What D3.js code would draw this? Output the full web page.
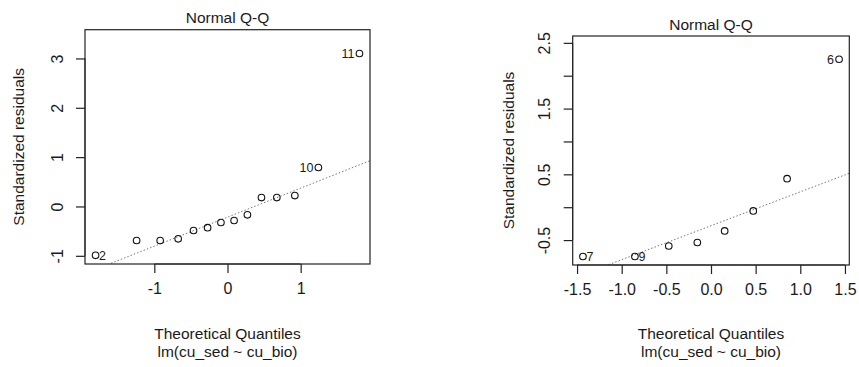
<!DOCTYPE html>
<html><head><meta charset="utf-8">
<script src="https://cdn.jsdelivr.net/npm/d3@7"></script>
<style>
html,body{margin:0;padding:0;background:#fff;}
text{font-family:"Liberation Sans",Arial,sans-serif;fill:#1a1a1a;}
</style></head>
<body>
<svg id="chart" width="859" height="367"></svg>
<script>
// ---- Data ----
const leftTheo   = [-1.803,-1.242,-0.920,-0.674,-0.464,-0.272,-0.090,0.090,0.272,0.464,0.674,0.920,1.242,1.803];
const leftResid  = [-0.99,-0.69,-0.69,-0.655,-0.487,-0.43,-0.325,-0.284,-0.17,0.18,0.18,0.22,0.79,3.10];
const leftLabelIdx  = [0,12,13];
const leftLabelText = ["2","10","11"];
const leftXTicks = [-1,0,1];
const leftXTickLabels = ["-1","0","1"];
const leftYTicks = [-1,0,1,2,3];
const leftYTickLabels = ["-1","0","1","2","3"];

const rightTheo  = [-1.434,-0.852,-0.473,-0.153,0.153,0.473,0.852,1.434];
const rightResid = [-0.75,-0.75,-0.59,-0.537,-0.36,-0.057,0.434,2.25];
const rightLabelIdx  = [0,1,7];
const rightLabelText = ["7","9","6"];
const rightXTicks = [-1.5,-1,-0.5,0,0.5,1,1.5];
const rightXTickLabels = ["-1.5","-1.0","-0.5","0.0","0.5","1.0","1.5"];
const rightYTicks = [-0.5,0,0.5,1,1.5,2,2.5];
const rightYTickLabels = ["-0.5","","0.5","","1.5","","2.5"];

const titleText = "Normal Q-Q";
const xTitle = "Theoretical Quantiles";
const subTitle = "lm(cu_sed ~ cu_bio)";
const yTitle = "Standardized residuals";

const svg = d3.select("#chart");

function quantile7(sorted, p){
  const h = (sorted.length-1)*p, lo = Math.floor(h);
  return sorted[lo] + (h-lo)*((sorted[Math.min(lo+1,sorted.length-1)]) - sorted[lo]);
}

function panel(cfg){
  const {box, theo, resid, labIdx, labText, xTicks, xTickLabels, yTicks, yTickLabels} = cfg;
  const g = svg.append("g");
  const xe = d3.extent(theo);
  const xpad = (xe[1]-xe[0])*0.04;
  const ye = d3.extent(resid);
  const ytop = ye[1] + (ye[1]-ye[0])*0.075;
  const ypad = (ytop-ye[0])*0.04;
  const x = d3.scaleLinear().domain([xe[0]-xpad, xe[1]+xpad]).range([box.x0, box.x1]);
  const y = d3.scaleLinear().domain([ye[0]-ypad, ytop+ypad]).range([box.y1, box.y0]);

  const cid = "clip"+Math.round(box.x0);
  svg.append("defs").append("clipPath").attr("id",cid)
    .append("rect").attr("x",box.x0).attr("y",box.y0).attr("width",box.x1-box.x0).attr("height",box.y1-box.y0);

  // qq line through quartiles
  const s = resid.slice().sort(d3.ascending);
  const q1 = quantile7(s,0.25), q3 = quantile7(s,0.75);
  const z = 0.6744898;
  const slope = (q3-q1)/(2*z), inter = q1 + z*slope;
  const xd = x.domain();
  g.append("line").attr("clip-path",`url(#${cid})`)
    .attr("x1",x(xd[0])).attr("y1",y(inter+slope*xd[0]))
    .attr("x2",x(xd[1])).attr("y2",y(inter+slope*xd[1]))
    .attr("stroke","#777").attr("stroke-width",1).attr("stroke-dasharray","1.5,2");

  g.selectAll("circle").data(theo.map((t,i)=>[t,resid[i]])).join("circle")
    .attr("cx",d=>x(d[0])).attr("cy",d=>y(d[1])).attr("r",3.3)
    .attr("fill","none").attr("stroke","#111").attr("stroke-width",1.1);

  const xmid = (xd[0]+xd[1])/2;
  g.selectAll("text.lab").data(labIdx.map((i,k)=>({i, t:labText[k]}))).join("text")
    .attr("class","lab")
    .attr("x",d=> theo[d.i] < xmid ? x(theo[d.i])+3.5 : x(theo[d.i])-5)
    .attr("y",d=>y(resid[d.i])+4.3)
    .attr("text-anchor",d=> theo[d.i] < xmid ? "start":"end")
    .attr("font-size",12.5).text(d=>d.t);

  g.append("rect").attr("x",box.x0).attr("y",box.y0)
    .attr("width",box.x1-box.x0).attr("height",box.y1-box.y0)
    .attr("fill","none").attr("stroke","#222").attr("stroke-width",1.2);

  const xa = g.append("g").attr("transform",`translate(0,${box.y1})`)
    .call(d3.axisBottom(x).tickValues(xTicks).tickSize(9).tickPadding(10)
      .tickFormat((d,i)=>xTickLabels[i]));
  xa.select(".domain").attr("d",`M${x(xTicks[0])},0H${x(xTicks[xTicks.length-1])}`).attr("stroke","#222");
  xa.selectAll(".tick line").attr("stroke","#222").attr("stroke-width",1.2);
  xa.selectAll(".tick text").attr("font-size",16).attr("font-family","Liberation Sans, Arial, sans-serif").attr("fill","#1a1a1a");

  const ya = g.append("g").attr("transform",`translate(${box.x0},0)`)
    .call(d3.axisLeft(y).tickValues(yTicks).tickSize(9).tickFormat((d,i)=>yTickLabels[i]));
  ya.select(".domain").attr("d",`M0,${y(yTicks[0])}V${y(yTicks[yTicks.length-1])}`).attr("stroke","#222");
  ya.selectAll(".tick line").attr("stroke","#222").attr("stroke-width",1.2);
  ya.selectAll(".tick text")
    .attr("x",0).attr("y",0).attr("dy",null)
    .attr("transform","translate(-28,0) rotate(-90)")
    .attr("text-anchor","middle").attr("dominant-baseline","central")
    .attr("font-size",16).attr("font-family","Liberation Sans, Arial, sans-serif").attr("fill","#1a1a1a");

  const cx = (box.x0+box.x1)/2;
  g.append("text").attr("x",cx).attr("y",box.y0-6.5).attr("text-anchor","middle")
    .attr("font-size",15.5).text(titleText);
  g.append("text").attr("x",cx).attr("y",338.5).attr("text-anchor","middle")
    .attr("font-size",15.5).text(xTitle);
  g.append("text").attr("x",cx).attr("y",356.5).attr("text-anchor","middle")
    .attr("font-size",15.5).text(subTitle);
  const cy = (box.y0+box.y1)/2;
  g.append("text").attr("transform",`translate(${box.x0-cfg.yTitleOff},${cy}) rotate(-90)`)
    .attr("text-anchor","middle").attr("dominant-baseline","central")
    .attr("font-size",15.5).text(yTitle);
}

panel({box:{x0:85,x1:370,y0:29.7,y1:264}, theo:leftTheo, resid:leftResid,
  labIdx:leftLabelIdx, labText:leftLabelText, xTicks:leftXTicks, xTickLabels:leftXTickLabels,
  yTicks:leftYTicks, yTickLabels:leftYTickLabels, yTitleOff:66.5});
panel({box:{x0:572.7,x1:849.3,y0:36,y1:265}, theo:rightTheo, resid:rightResid,
  labIdx:rightLabelIdx, labText:rightLabelText, xTicks:rightXTicks, xTickLabels:rightXTickLabels,
  yTicks:rightYTicks, yTickLabels:rightYTickLabels, yTitleOff:64});
</script>
</body></html>
